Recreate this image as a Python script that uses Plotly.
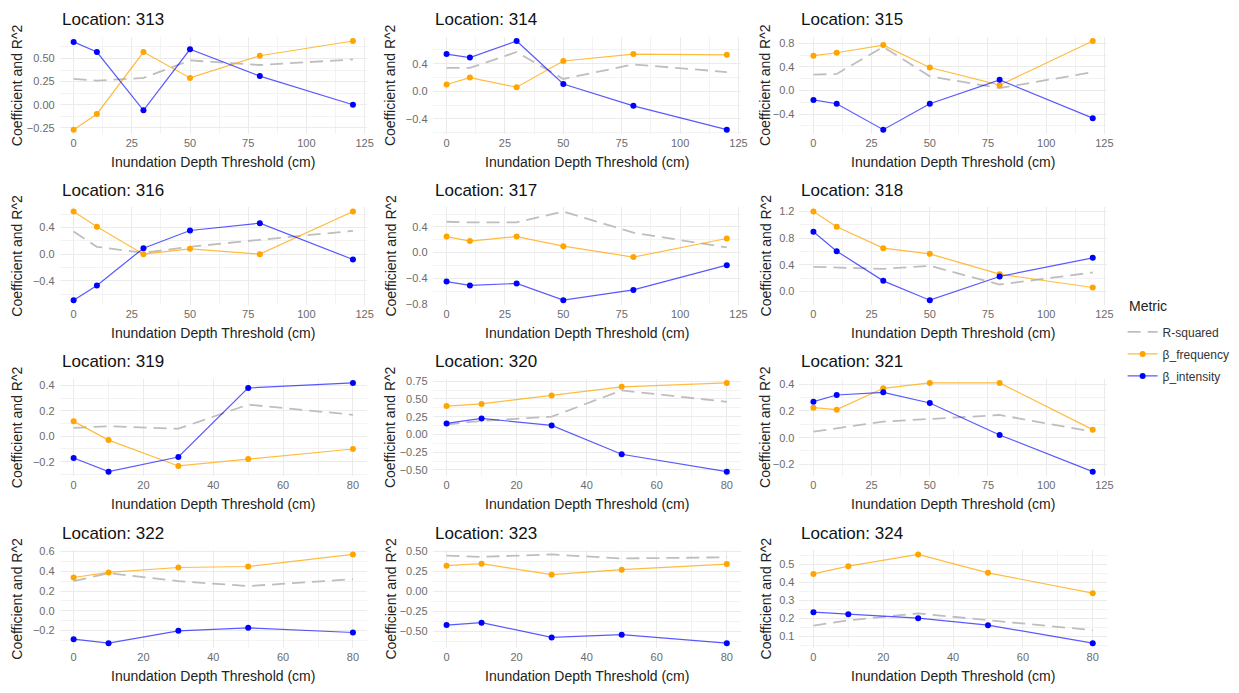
import plotly.graph_objects as go

# Inundation depth thresholds (cm); shorter series use the first five
thresholds = [0, 10, 30, 50, 80, 120]

locations = [313, 314, 315, 316, 317, 318, 319, 320, 321, 322, 323, 324]

beta_frequency = [
    [-0.27, -0.10, 0.57, 0.29, 0.53, 0.69],
    [0.10, 0.20, 0.06, 0.44, 0.54, 0.53],
    [0.59, 0.64, 0.77, 0.39, 0.09, 0.84],
    [0.64, 0.41, 0.00, 0.08, 0.00, 0.64],
    [0.25, 0.18, 0.25, 0.10, -0.07, 0.22],
    [1.20, 0.97, 0.65, 0.565, 0.26, 0.06],
    [0.118, -0.03, -0.234, -0.18, -0.10],
    [0.40, 0.43, 0.55, 0.67, 0.725],
    [0.225, 0.21, 0.37, 0.41, 0.41, 0.06],
    [0.337, 0.388, 0.438, 0.448, 0.57],
    [0.32, 0.345, 0.208, 0.27, 0.34],
    [0.448, 0.491, 0.556, 0.454, 0.341],
]

beta_intensity = [
    [0.68, 0.57, -0.06, 0.60, 0.31, 0.00],
    [0.54, 0.49, 0.73, 0.107, -0.21, -0.555],
    [-0.16, -0.225, -0.665, -0.225, 0.18, -0.47],
    [-0.69, -0.47, 0.09, 0.355, 0.465, -0.08],
    [-0.45, -0.51, -0.48, -0.74, -0.58, -0.195],
    [0.895, 0.605, 0.16, -0.13, 0.225, 0.505],
    [-0.171, -0.279, -0.163, 0.382, 0.421],
    [0.155, 0.225, 0.127, -0.28, -0.525],
    [0.27, 0.32, 0.34, 0.26, 0.02, -0.255],
    [-0.287, -0.327, -0.202, -0.172, -0.219],
    [-0.42, -0.39, -0.575, -0.54, -0.646],
    [0.235, 0.224, 0.202, 0.163, 0.063],
]

r_squared = [
    [0.28, 0.26, 0.29, 0.48, 0.43, 0.49],
    [0.34, 0.34, 0.57, 0.18, 0.39, 0.28],
    [0.27, 0.28, 0.74, 0.24, 0.04, 0.31],
    [0.34, 0.11, 0.02, 0.11, 0.215, 0.35],
    [0.48, 0.47, 0.47, 0.64, 0.31, 0.08],
    [0.37, 0.36, 0.34, 0.385, 0.105, 0.285],
    [0.066, 0.08, 0.06, 0.25, 0.17],
    [0.14, 0.19, 0.25, 0.62, 0.46],
    [0.045, 0.07, 0.12, 0.14, 0.17, 0.045],
    [0.30, 0.38, 0.30, 0.25, 0.32],
    [0.446, 0.43, 0.46, 0.41, 0.425],
    [0.161, 0.19, 0.228, 0.19, 0.135],
]

# y-axis tick step and label format per panel
y_dtick = [0.25, 0.4, 0.4, 0.4, 0.4, 0.4, 0.2, 0.25, 0.2, 0.2, 0.25, 0.1]
y_format = [".2f", ".1f", ".1f", ".1f", ".1f", ".1f", ".1f", ".2f", ".1f", ".1f", ".2f", ".1f"]

metric_names = ["R-squared", "β_frequency", "β_intensity"]

FONT = "Liberation Sans, Arial, sans-serif"
W, H = 1239, 693
ORANGE = "#FFA500"
BLUE = "#0000FF"
GREY = "#BEBEBE"
GRID = "#EBEBEB"
MINOR = "#F3F3F3"

# panel geometry in pixels
col_left = [60, 435, 804]
col_right = [369, 745, 1113]
row_top = [32, 205, 379, 553]
panel_h = 99
ytitle_x = [17, 393, 770]

fig = go.Figure()
annotations = []
layout_axes = {}

for i, loc in enumerate(locations):
    r, c = divmod(i, 3)
    n = i + 1
    xa = "x" if n == 1 else f"x{n}"
    ya = "y" if n == 1 else f"y{n}"
    freq = beta_frequency[i]
    inten = beta_intensity[i]
    rsq = r_squared[i]
    xs = thresholds[:len(freq)]
    first = i == 0

    fig.add_trace(go.Scatter(
        x=xs, y=rsq, mode="lines", name=metric_names[0], legendgroup="r2",
        showlegend=first, xaxis=xa, yaxis=ya,
        line=dict(color=GREY, width=1.8, dash="13px,7px"),
    ))
    fig.add_trace(go.Scatter(
        x=xs, y=freq, mode="lines+markers", name=metric_names[1], legendgroup="freq",
        showlegend=first, xaxis=xa, yaxis=ya,
        line=dict(color="rgba(255,165,0,0.75)", width=1.2),
        marker=dict(color=ORANGE, size=6),
    ))
    fig.add_trace(go.Scatter(
        x=xs, y=inten, mode="lines+markers", name=metric_names[2], legendgroup="int",
        showlegend=first, xaxis=xa, yaxis=ya,
        line=dict(color="rgba(0,0,255,0.65)", width=1.2),
        marker=dict(color=BLUE, size=6),
    ))

    # ggplot-style 5% expansion of the data range
    vals = freq + inten + rsq
    lo, hi = min(vals), max(vals)
    pad = 0.05 * (hi - lo)
    xmax = max(xs)
    xpad = 0.05 * xmax
    xdt = 25 if xmax > 100 else 20

    x0 = col_left[c] / W
    x1 = col_right[c] / W
    y1 = 1 - row_top[r] / H
    y0 = 1 - (row_top[r] + panel_h) / H

    layout_axes[f"xaxis{n if n > 1 else ''}"] = dict(
        domain=[x0, x1], anchor=ya, range=[-xpad, xmax + xpad],
        tick0=0, dtick=xdt, showgrid=True, gridcolor=GRID, gridwidth=1.3,
        minor=dict(tick0=0, dtick=xdt / 2, showgrid=True, gridcolor=MINOR, gridwidth=0.8),
        zeroline=False, showline=False, ticks="",
        tickfont=dict(family=FONT, size=11, color="#6b6b6b"),
        ticklabelstandoff=1,
    )
    layout_axes[f"yaxis{n if n > 1 else ''}"] = dict(
        domain=[y0, y1], anchor=xa, range=[lo - pad, hi + pad],
        tick0=0, dtick=y_dtick[i], tickformat=y_format[i],
        showgrid=True, gridcolor=GRID, gridwidth=1.3,
        minor=dict(tick0=0, dtick=y_dtick[i] / 2, showgrid=True, gridcolor=MINOR, gridwidth=0.8),
        zeroline=False, showline=False, ticks="",
        tickfont=dict(family=FONT, size=11, color="#6b6b6b"),
        ticklabelstandoff=4,
    )

    # panel title
    annotations.append(dict(
        text=f"Location: {loc}", xref="paper", yref="paper", x=x0, y=y1,
        xanchor="left", yanchor="middle", yshift=17, showarrow=False,
        font=dict(family=FONT, size=17, color="#111111"),
    ))
    # x-axis title
    annotations.append(dict(
        text="Inundation Depth Threshold (cm)", xref="paper", yref="paper",
        x=(x0 + x1) / 2, y=y0, xanchor="center", yanchor="middle", yshift=-28,
        showarrow=False, font=dict(family=FONT, size=14, color="#222222"),
    ))
    # y-axis title
    annotations.append(dict(
        text="Coefficient and R^2", xref="paper", yref="paper",
        x=ytitle_x[c] / W, y=(y0 + y1) / 2, xanchor="center", yanchor="middle",
        textangle=-90, showarrow=False, font=dict(family=FONT, size=14, color="#222222"),
    ))

# legend heading
annotations.append(dict(
    text="Metric", xref="paper", yref="paper", x=1133 / W, y=1 - 305 / H,
    xanchor="left", yanchor="middle", showarrow=False,
    font=dict(family=FONT, size=14, color="#222222"),
))

fig.update_layout(
    width=W, height=H,
    margin=dict(l=0, r=0, t=0, b=0),
    paper_bgcolor="white", plot_bgcolor="white",
    font=dict(family=FONT),
    annotations=annotations,
    legend=dict(
        x=1129 / W, y=1 - 317 / H, xanchor="left", yanchor="top",
        font=dict(family=FONT, size=12, color="#333333"),
        bgcolor="rgba(0,0,0,0)", traceorder="grouped", tracegroupgap=3,
    ),
    **layout_axes,
)

fig.write_html("out.html")
